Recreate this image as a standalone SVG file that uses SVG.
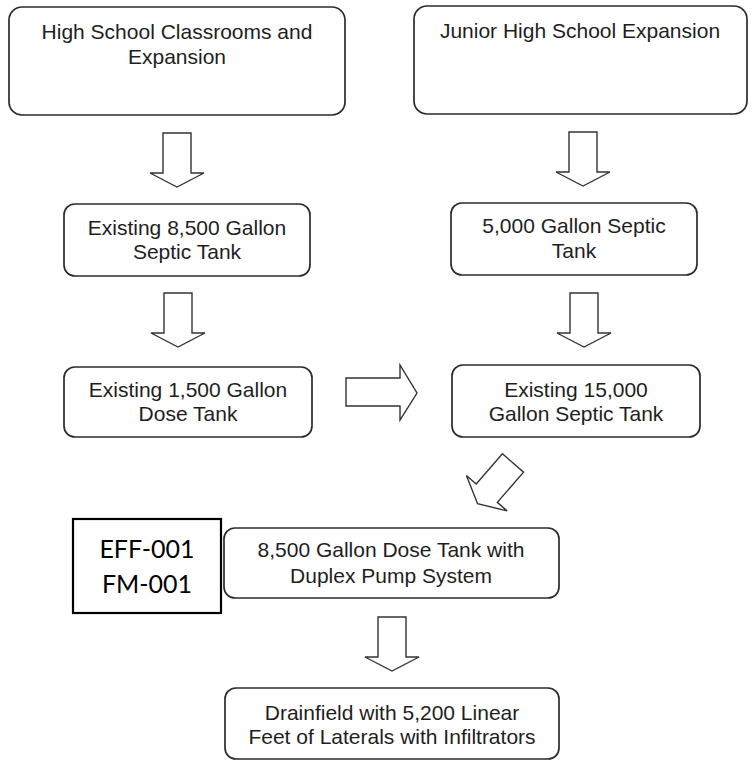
<svg xmlns="http://www.w3.org/2000/svg" width="752" height="761" viewBox="0 0 752 761">
<style>
.box{fill:#fff;stroke:#2b2b2b;stroke-width:1.7}
.tag{fill:#fff;stroke:#000;stroke-width:2.2}
.t{font-family:"Liberation Sans",Arial,sans-serif;font-size:21px;fill:#1e1e1e;text-anchor:middle}
.c{font-family:Lato,"Open Sans",sans-serif;font-size:25px;fill:#000;text-anchor:middle}
.arr{fill:#fff;stroke:#333;stroke-width:1.4;stroke-linejoin:miter}
</style>
<defs>
<path id="down" d="M-14,0 H14 V40 H27 L0,54 L-27,40 H-14 Z"/>
</defs>
<rect width="752" height="761" fill="#fff"/>
<g id="connectors">
<use href="#down" class="arr" transform="translate(177,133)"/>
<use href="#down" class="arr" transform="translate(583,132)"/>
<use href="#down" class="arr" transform="translate(178,293)"/>
<use href="#down" class="arr" transform="translate(584,293)"/>
<path class="arr" d="M346,378 H400 V365 L417,393 L400,420 V406 H346 Z"/>
<use href="#down" class="arr" transform="translate(513,463) rotate(41)"/>
<use href="#down" class="arr" transform="translate(392,617)"/>
</g>
<g id="n1">
<rect class="box" x="9" y="7" width="336" height="108" rx="13"/>
<text class="t" x="177" y="39">High School Classrooms and</text>
<text class="t" x="177" y="64">Expansion</text>
</g>
<g id="n2">
<rect class="box" x="414" y="6" width="333" height="108" rx="13"/>
<text class="t" x="580" y="38">Junior High School Expansion</text>
</g>
<g id="n3">
<rect class="box" x="64" y="204" width="246" height="72" rx="11"/>
<text class="t" x="187" y="235">Existing 8,500 Gallon</text>
<text class="t" x="187" y="259">Septic Tank</text>
</g>
<g id="n4">
<rect class="box" x="451" y="203" width="246" height="72" rx="11"/>
<text class="t" x="574" y="233">5,000 Gallon Septic</text>
<text class="t" x="574" y="258">Tank</text>
</g>
<g id="n5">
<rect class="box" x="64" y="367" width="248" height="70" rx="11"/>
<text class="t" x="188" y="397">Existing 1,500 Gallon</text>
<text class="t" x="188" y="421">Dose Tank</text>
</g>
<g id="n6">
<rect class="box" x="452" y="365" width="248" height="72" rx="11"/>
<text class="t" x="576" y="397">Existing 15,000</text>
<text class="t" x="576" y="421">Gallon Septic Tank</text>
</g>
<g id="n7">
<rect class="tag" x="73" y="519" width="148" height="94"/>
<text class="c" x="147" y="558">EFF-001</text>
<text class="c" x="147" y="593">FM-001</text>
</g>
<g id="n8">
<rect class="box" x="224" y="528" width="335" height="70" rx="11"/>
<text class="t" x="391" y="557">8,500 Gallon Dose Tank with</text>
<text class="t" x="391" y="583">Duplex Pump System</text>
</g>
<g id="n9">
<rect class="box" x="225" y="688" width="334" height="71" rx="11"/>
<text class="t" x="392" y="720">Drainfield with 5,200 Linear</text>
<text class="t" x="392" y="744">Feet of Laterals with Infiltrators</text>
</g>
</svg>
